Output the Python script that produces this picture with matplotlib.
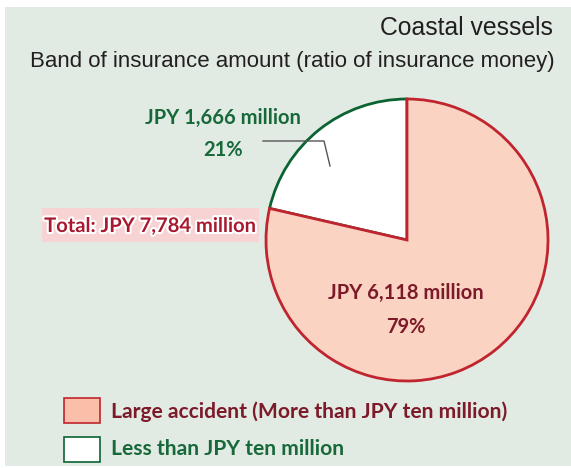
import matplotlib
matplotlib.use("Agg")
import matplotlib.pyplot as plt
import matplotlib.patheffects as pe
from matplotlib.patches import Rectangle

# Insurance money by accident size (JPY million)
categories = ["Less than JPY ten million", "Large accident (More than JPY ten million)"]
amounts = [1666, 6118]
total = sum(amounts)

title = "Coastal vessels"
subtitle = "Band of insurance amount (ratio of insurance money)"

bg = "#e1eae3"
salmon = "#fbd3c2"
legend_salmon = "#f9bfa8"
red_edge = "#c0252f"
green_edge = "#0b6332"
dark_red = "#7d1a2a"
green_txt = "#17693a"
total_red = "#a8182e"

head_font = "Liberation Sans"
label_font = "Lato"

W, H = 571, 468
fig = plt.figure(figsize=(W / 100, H / 100), dpi=100)
ax = fig.add_axes([0, 0, 1, 1])

# panel background
ax.add_patch(Rectangle((5, 2), W - 5, H - 9, facecolor=bg, edgecolor="none", zorder=0))


def Y(y):
    # pixel row (from top) to data y
    return H - y


cx, cy, r = 407, Y(240), 141
wedges, _ = ax.pie(amounts, startangle=90, counterclock=True, center=(cx, cy), radius=r,
                   colors=["white", salmon],
                   wedgeprops=dict(linewidth=2, joinstyle="miter"))
wedges[0].set_edgecolor(green_edge)
wedges[1].set_edgecolor(red_edge)
ax.set_xlim(0, W)
ax.set_ylim(0, H)
ax.set_aspect("equal")
ax.axis("off")

ax.text(553, Y(35), title, ha="right", va="baseline", fontsize=17.8,
        family=head_font, color="#231f20")
ax.text(555, Y(67), subtitle, ha="right", va="baseline", fontsize=16,
        family=head_font, color="#231f20")

pct = [round(a / total * 100) for a in amounts]
bold = dict(family=label_font, fontweight="bold", fontsize=14.5)

# small slice label with leader line
ax.text(223, Y(124), f"JPY {amounts[0]:,} million", ha="center", va="baseline",
        color=green_txt, **bold)
ax.text(223, Y(156), f"{pct[0]}%", ha="center", va="baseline", color=green_txt, **bold)
ax.plot([263, 324, 330], [Y(141), Y(141), Y(166)], color="#555555", lw=1, zorder=5)

# large slice label
ax.text(406, Y(299), f"JPY {amounts[1]:,} million", ha="center", va="baseline",
        color=dark_red, **bold)
ax.text(406, Y(333), f"{pct[1]}%", ha="center", va="baseline", color=dark_red, **bold)

# total tag
ax.add_patch(Rectangle((42, Y(242)), 217, 34, facecolor="#f8d3d3", edgecolor="none", zorder=3))
ax.text(150, Y(232), f"Total: JPY {total:,} million", ha="center", va="baseline",
        color=total_red, zorder=4,
        path_effects=[pe.withStroke(linewidth=3, foreground="white")], **bold)

# legend
legend_rows = [(categories[1], legend_salmon, red_edge, dark_red, 398, 418),
               (categories[0], "white", green_edge, green_txt, 437, 455)]
for label, fc, ec, tc, top, base in legend_rows:
    ax.add_patch(Rectangle((64, Y(top + 25)), 36, 25, facecolor=fc, edgecolor=ec, lw=1.2))
    ax.text(111, Y(base), label, ha="left", va="baseline", color=tc,
            **{**bold, "fontsize": 15.1})

fig.savefig("out.png", dpi=100)
